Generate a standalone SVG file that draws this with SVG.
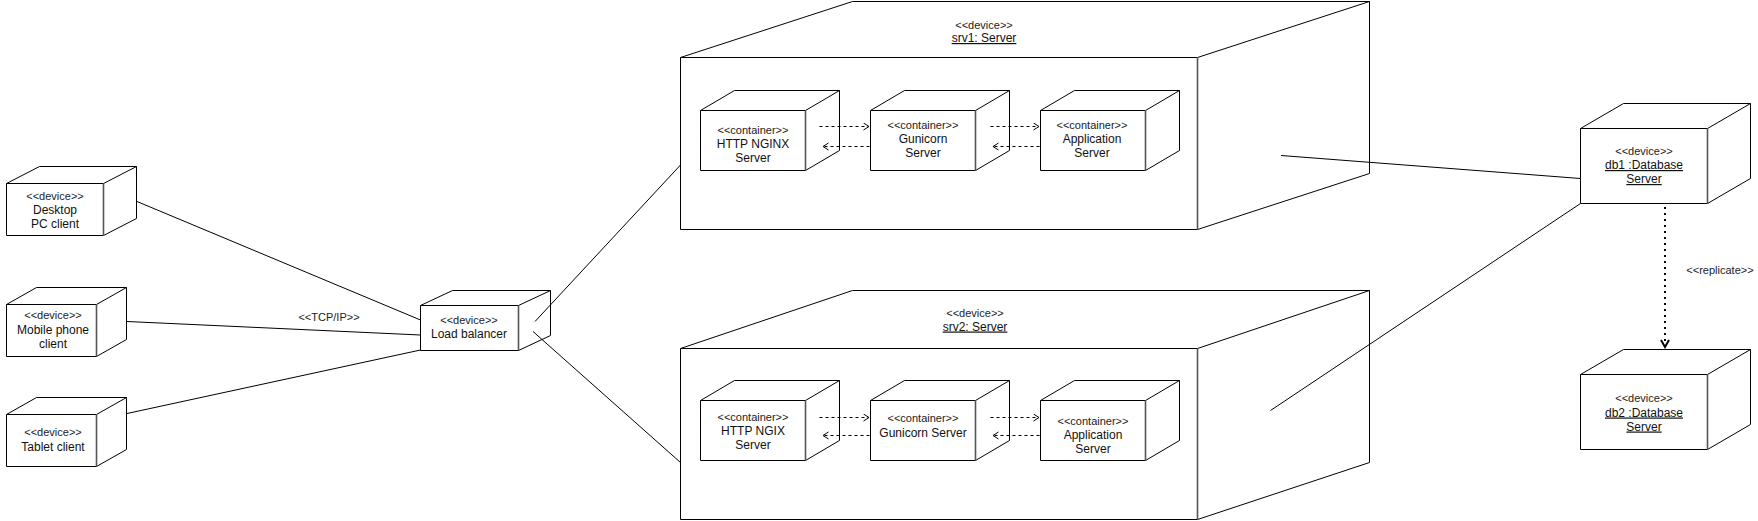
<svg xmlns="http://www.w3.org/2000/svg" width="1758" height="521" viewBox="0 0 1758 521">
<defs>
<style>
.cube{fill:#fff;stroke:#000;stroke-width:1;stroke-linejoin:miter}
.in{fill:none;stroke:#000;stroke-width:1}
.fe{fill:none;stroke:#555;stroke-width:1.6}
.st{font-family:"Liberation Sans",Arial,sans-serif;font-size:11px;fill:#222;text-anchor:middle}
.nm{font-family:"Liberation Sans",Arial,sans-serif;font-size:12px;fill:#111;text-anchor:middle}
.u{text-decoration:underline}
.ln{fill:none;stroke:#000;stroke-width:1}
.da{fill:none;stroke:#000;stroke-width:1;stroke-dasharray:3 3;marker-end:url(#open)}
.dot{fill:none;stroke:#000;stroke-width:2;stroke-dasharray:2 4;marker-end:url(#openBig)}
</style>
<marker id="open" markerWidth="8" markerHeight="10" refX="6" refY="4" orient="auto" markerUnits="userSpaceOnUse">
<path d="M0.5,0.5 L6,4 L0.5,7.5" fill="none" stroke="#000" stroke-width="1"/>
</marker>
<marker id="openBig" markerWidth="12" markerHeight="12" refX="8" refY="5" orient="auto" markerUnits="userSpaceOnUse">
<path d="M1,1 L8,5 L1,9" fill="none" stroke="#000" stroke-width="2"/>
</marker>
</defs>
<rect width="1758" height="521" fill="#fff"/>

<!-- srv1 -->
<g id="srv1">
<path class="cube" d="M680.5,57.5 L852.5,1.5 L1369.5,1.5 L1369.5,173.5 L1197.5,229.5 L680.5,229.5 Z"/>
<path class="in" d="M680.5,57.5 L1197.5,57.5 M1197.5,57.5 L1369.5,1.5"/>
<path class="fe" d="M1197.5,57.5 L1197.5,229.5"/>
<text class="st" x="984" y="28.5">&lt;&lt;device&gt;&gt;</text>
<text class="nm u" x="984" y="42">srv1: Server</text>
</g>

<!-- srv2 -->
<g id="srv2">
<path class="cube" d="M680.5,348.5 L852.5,290.5 L1369.5,290.5 L1369.5,462.5 L1197.5,519.5 L680.5,519.5 Z"/>
<path class="in" d="M680.5,348.5 L1197.5,348.5 M1197.5,348.5 L1369.5,290.5"/>
<path class="fe" d="M1197.5,348.5 L1197.5,519.5"/>
<text class="st" x="975" y="317">&lt;&lt;device&gt;&gt;</text>
<text class="nm u" x="975" y="330.5">srv2: Server</text>
</g>

<!-- srv1 containers -->
<g id="nginx1">
<path class="cube" d="M700.5,110.5 L734.5,90.5 L839.5,90.5 L839.5,150.5 L805.5,170.5 L700.5,170.5 Z"/>
<path class="in" d="M700.5,110.5 L805.5,110.5 L839.5,90.5"/>
<path class="fe" d="M805.5,110.5 L805.5,170.5"/>
<text class="st" x="753" y="133.5">&lt;&lt;container&gt;&gt;</text>
<text class="nm" x="753" y="147.5">HTTP NGINX</text>
<text class="nm" x="753" y="161.5">Server</text>
</g>
<g id="gunicorn1">
<path class="cube" d="M870.5,110.5 L904.5,90.5 L1009.5,90.5 L1009.5,150.5 L975.5,170.5 L870.5,170.5 Z"/>
<path class="in" d="M870.5,110.5 L975.5,110.5 L1009.5,90.5"/>
<path class="fe" d="M975.5,110.5 L975.5,170.5"/>
<text class="st" x="923" y="128.5">&lt;&lt;container&gt;&gt;</text>
<text class="nm" x="923" y="142.5">Gunicorn</text>
<text class="nm" x="923" y="156.5">Server</text>
</g>
<g id="app1">
<path class="cube" d="M1040.5,110.5 L1074.5,90.5 L1179.5,90.5 L1179.5,150.5 L1145.5,170.5 L1040.5,170.5 Z"/>
<path class="in" d="M1040.5,110.5 L1145.5,110.5 L1179.5,90.5"/>
<path class="fe" d="M1145.5,110.5 L1145.5,170.5"/>
<text class="st" x="1092" y="128.5">&lt;&lt;container&gt;&gt;</text>
<text class="nm" x="1092" y="142.5">Application</text>
<text class="nm" x="1092" y="156.5">Server</text>
</g>

<!-- srv2 containers -->
<g id="nginx2">
<path class="cube" d="M700.5,400.5 L734.5,380.5 L839.5,380.5 L839.5,440.5 L805.5,460.5 L700.5,460.5 Z"/>
<path class="in" d="M700.5,400.5 L805.5,400.5 L839.5,380.5"/>
<path class="fe" d="M805.5,400.5 L805.5,460.5"/>
<text class="st" x="753" y="420.5">&lt;&lt;container&gt;&gt;</text>
<text class="nm" x="753" y="435">HTTP NGIX</text>
<text class="nm" x="753" y="449">Server</text>
</g>
<g id="gunicorn2">
<path class="cube" d="M870.5,400.5 L904.5,380.5 L1009.5,380.5 L1009.5,440.5 L975.5,460.5 L870.5,460.5 Z"/>
<path class="in" d="M870.5,400.5 L975.5,400.5 L1009.5,380.5"/>
<path class="fe" d="M975.5,400.5 L975.5,460.5"/>
<text class="st" x="923" y="421.5">&lt;&lt;container&gt;&gt;</text>
<text class="nm" x="923" y="437">Gunicorn Server</text>
</g>
<g id="app2">
<path class="cube" d="M1040.5,400.5 L1074.5,380.5 L1179.5,380.5 L1179.5,440.5 L1145.5,460.5 L1040.5,460.5 Z"/>
<path class="in" d="M1040.5,400.5 L1145.5,400.5 L1179.5,380.5"/>
<path class="fe" d="M1145.5,400.5 L1145.5,460.5"/>
<text class="st" x="1093" y="425">&lt;&lt;container&gt;&gt;</text>
<text class="nm" x="1093" y="439">Application</text>
<text class="nm" x="1093" y="453">Server</text>
</g>

<!-- clients -->
<g id="desktop">
<path class="cube" d="M6.5,183.5 L39.5,166.5 L136.5,166.5 L136.5,218.5 L103.5,235.5 L6.5,235.5 Z"/>
<path class="in" d="M6.5,183.5 L103.5,183.5 L136.5,166.5"/>
<path class="fe" d="M103.5,183.5 L103.5,235.5"/>
<text class="st" x="55" y="199.5">&lt;&lt;device&gt;&gt;</text>
<text class="nm" x="55" y="214">Desktop</text>
<text class="nm" x="55" y="227.5">PC client</text>
</g>
<g id="mobile">
<path class="cube" d="M6.5,304.5 L36.5,287.5 L126.5,287.5 L126.5,339.5 L96.5,356.5 L6.5,356.5 Z"/>
<path class="in" d="M6.5,304.5 L96.5,304.5 L126.5,287.5"/>
<path class="fe" d="M96.5,304.5 L96.5,356.5"/>
<text class="st" x="53" y="318.5">&lt;&lt;device&gt;&gt;</text>
<text class="nm" x="53" y="334">Mobile phone</text>
<text class="nm" x="53" y="347.5">client</text>
</g>
<g id="tablet">
<path class="cube" d="M6.5,414.5 L36.5,397.5 L126.5,397.5 L126.5,449.5 L96.5,466.5 L6.5,466.5 Z"/>
<path class="in" d="M6.5,414.5 L96.5,414.5 L126.5,397.5"/>
<path class="fe" d="M96.5,414.5 L96.5,466.5"/>
<text class="st" x="53" y="436">&lt;&lt;device&gt;&gt;</text>
<text class="nm" x="53" y="450.5">Tablet client</text>
</g>
<g id="lb">
<path class="cube" d="M420.5,305.5 L452.5,290.5 L550.5,290.5 L550.5,335.5 L518.5,350.5 L420.5,350.5 Z"/>
<path class="in" d="M420.5,305.5 L518.5,305.5 L550.5,290.5"/>
<path class="fe" d="M518.5,305.5 L518.5,350.5"/>
<text class="st" x="469" y="323.5">&lt;&lt;device&gt;&gt;</text>
<text class="nm" x="469" y="337.5">Load balancer</text>
</g>

<!-- databases -->
<g id="db1">
<path class="cube" d="M1580.5,128.5 L1623.5,103.5 L1750.5,103.5 L1750.5,178.5 L1707.5,203.5 L1580.5,203.5 Z"/>
<path class="in" d="M1580.5,128.5 L1707.5,128.5 L1750.5,103.5"/>
<path class="fe" d="M1707.5,128.5 L1707.5,203.5"/>
<text class="st" x="1644" y="154.5">&lt;&lt;device&gt;&gt;</text>
<text class="nm u" x="1644" y="169">db1 :Database</text>
<text class="nm u" x="1644" y="183">Server</text>
</g>
<g id="db2">
<path class="cube" d="M1580.5,374.5 L1623.5,349.5 L1750.5,349.5 L1750.5,424.5 L1707.5,449.5 L1580.5,449.5 Z"/>
<path class="in" d="M1580.5,374.5 L1707.5,374.5 L1750.5,349.5"/>
<path class="fe" d="M1707.5,374.5 L1707.5,449.5"/>
<text class="st" x="1644" y="402">&lt;&lt;device&gt;&gt;</text>
<text class="nm u" x="1644" y="416.5">db2 :Database</text>
<text class="nm u" x="1644" y="430.5">Server</text>
</g>

<g id="connectors">
<path class="ln" d="M137,201.5 L420.5,320"/>
<path class="ln" d="M127,321.5 L420.5,335"/>
<path class="ln" d="M127,413.5 L420.5,350"/>
<path class="ln" d="M535,321.5 L680.5,165"/>
<path class="ln" d="M533,331.5 L680.5,462.5"/>
<path class="ln" d="M1281,155.5 L1580.5,178.5"/>
<path class="ln" d="M1270.5,410.5 L1580.5,203.5"/>
<path class="dot" d="M1665,207 L1665,347"/>
<path class="da" d="M819.5,126.5 L869,126.5"/>
<path class="da" d="M869.5,146.5 L823,146.5"/>
<path class="da" d="M990.5,126.5 L1039,126.5"/>
<path class="da" d="M1039.5,146.5 L993,146.5"/>
<path class="da" d="M819.5,417.5 L869,417.5"/>
<path class="da" d="M869.5,435.5 L823,435.5"/>
<path class="da" d="M990.5,417.5 L1039,417.5"/>
<path class="da" d="M1039.5,435.5 L993,435.5"/>
<text class="st" x="329" y="320.5">&lt;&lt;TCP/IP&gt;&gt;</text>
<text class="st" x="1720" y="274">&lt;&lt;replicate&gt;&gt;</text>
</g>
</svg>
